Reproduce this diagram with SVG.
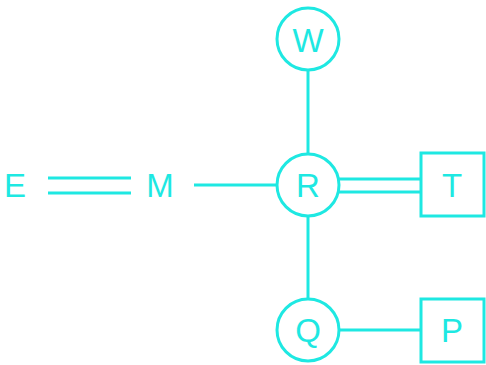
<svg xmlns="http://www.w3.org/2000/svg" width="486" height="365" viewBox="0 0 486 365">
<style>
.n{fill:none;stroke:#1ee8e2;stroke-width:3}
.c line{stroke:#1ee8e2;stroke-width:3}
text{font-family:"Liberation Sans",Arial,sans-serif;font-size:33px;fill:#1ee8e2;text-anchor:middle}
</style>
<rect width="486" height="365" fill="#fff"/>
<g class="c" id="connectors">
<line x1="308" y1="71" x2="308" y2="153"/>
<line x1="308" y1="217" x2="308" y2="298"/>
<line x1="194" y1="185" x2="277" y2="185"/>
<line x1="338" y1="179" x2="421" y2="179"/>
<line x1="338" y1="192" x2="421" y2="192"/>
<line x1="48" y1="178" x2="131" y2="178"/>
<line x1="48" y1="193" x2="131" y2="193"/>
<line x1="340" y1="330" x2="421" y2="330"/>
</g>
<g id="W"><circle class="n" cx="308" cy="39" r="31"/><text x="308" y="52">W</text></g>
<g id="R"><circle class="n" cx="308" cy="185" r="31"/><text x="308" y="197">R</text></g>
<g id="Q"><circle class="n" cx="308" cy="330" r="31"/><text x="308" y="342">Q</text></g>
<g id="T"><rect class="n" x="421" y="153" width="63" height="63"/><text x="452" y="197">T</text></g>
<g id="P"><rect class="n" x="421" y="299" width="63" height="63"/><text x="452" y="342">P</text></g>
<g id="E"><text x="15" y="197">E</text></g>
<g id="M"><text x="160" y="197">M</text></g>
</svg>
